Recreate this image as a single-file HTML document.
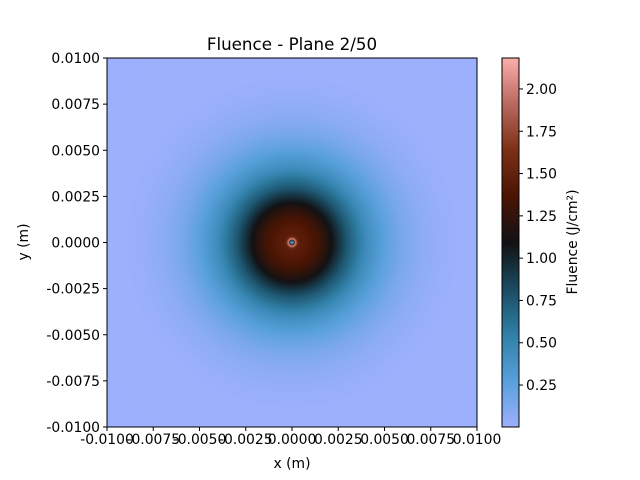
<!DOCTYPE html>
<html><head><meta charset="utf-8"><style>
body{margin:0;background:#fff;width:640px;height:480px;overflow:hidden;position:relative;font-family:"DejaVu Sans","Liberation Sans",sans-serif}
canvas{position:absolute}
svg{position:absolute;left:0;top:0}
text{font-family:"DejaVu Sans","Liberation Sans",sans-serif;fill:#000}
</style></head><body>
<canvas id="img" width="370" height="369" style="left:107px;top:58px"></canvas>
<canvas id="cb" width="17" height="369" style="left:502px;top:58px"></canvas>
<svg id="s" width="640" height="480"></svg>
<script>
// radial fluence profile (r in m, fluence J/cm2)
const radii=[0,0.00008,0.00018,0.00032,0.0005,0.001,0.0015,0.002,0.0025,0.003,0.0035,0.004,0.0045,0.005,0.006,0.007,0.008,0.009,0.015];
const fluence=[0.4,0.4,2.1,1.5,1.45,1.4,1.3,1.15,0.95,0.75,0.6,0.45,0.35,0.26,0.14,0.07,0.03,0.01,0.003];
const xTicks=[-0.01,-0.0075,-0.005,-0.0025,0,0.0025,0.005,0.0075,0.01];
const yTicks=[-0.01,-0.0075,-0.005,-0.0025,0,0.0025,0.005,0.0075,0.01];
const cbTicks=[0.25,0.5,0.75,1.0,1.25,1.5,1.75,2.0];
const vmin=0.002,vmax=2.183;
const cmapStops=[[0,[158,176,253]],[0.125,[88,160,220]],[0.25,[48,128,168]],[0.375,[26,76,98]],[0.5,[18,18,20]],[0.625,[75,20,3]],[0.75,[125,48,22]],[0.875,[185,105,95]],[1,[252,174,172]]];
function cmap(t){t=Math.max(0,Math.min(1,t));for(let i=1;i<cmapStops.length;i++){if(t<=cmapStops[i][0]){const a=cmapStops[i-1],b=cmapStops[i];const f=(t-a[0])/(b[0]-a[0]);return a[1].map((c,k)=>c+(b[1][k]-c)*f);}}return cmapStops[cmapStops.length-1][1];}
function prof(r){for(let i=1;i<radii.length;i++){if(r<=radii[i]){const f=(r-radii[i-1])/(radii[i]-radii[i-1]);return fluence[i-1]+(fluence[i]-fluence[i-1])*f;}}return fluence[fluence.length-1];}
const X0=107,X1=477,Y0=58,Y1=427;
const sx=v=>X0+(v+0.01)/0.02*(X1-X0);
const sy=v=>Y1-(v+0.01)/0.02*(Y1-Y0);
const sc=v=>Y1-(v-vmin)/(vmax-vmin)*(Y1-Y0);
(function(){const c=document.getElementById('img'),g=c.getContext('2d'),W=c.width,H=c.height,d=g.createImageData(W,H);
for(let j=0;j<H;j++)for(let i=0;i<W;i++){const x=-0.01+(i+0.5)/W*0.02,y=0.01-(j+0.5)/H*0.02;const v=prof(Math.hypot(x,y));const col=cmap((v-vmin)/(vmax-vmin));const p=(j*W+i)*4;d.data[p]=col[0];d.data[p+1]=col[1];d.data[p+2]=col[2];d.data[p+3]=255;}
g.putImageData(d,0,0);
const cc=document.getElementById('cb'),gc=cc.getContext('2d');
for(let j=0;j<cc.height;j++){const col=cmap(1-(j+0.5)/cc.height);gc.fillStyle='rgb('+col.map(Math.round).join(',')+')';gc.fillRect(0,j,cc.width,1);}})();
const s=document.getElementById('s'),NS='http://www.w3.org/2000/svg';
function el(t,a,txt){const e=document.createElementNS(NS,t);for(const k in a)e.setAttribute(k,a[k]);if(txt!=null)e.textContent=txt;s.appendChild(e);return e;}
let e;
e=el('rect',{x:X0,y:Y0,width:X1-X0,height:Y1-Y0,fill:'none',stroke:'#000','stroke-width':1});


e=el('rect',{x:502,y:Y0,width:17,height:Y1-Y0,fill:'none',stroke:'#000','stroke-width':1});


xTicks.forEach(v=>{const x=sx(v);
e=el('line',{x1:x,x2:x,y1:Y1,y2:Y1+4,stroke:'#000'});


e=el('text',{x:x,y:Y1+17,'text-anchor':'middle','font-size':'13.9'},v.toFixed(4));

});
yTicks.forEach(v=>{const y=sy(v);
e=el('line',{x1:X0-4,x2:X0,y1:y,y2:y,stroke:'#000'});


e=el('text',{x:X0-7,y:y+5,'text-anchor':'end','font-size':'13.9'},v.toFixed(4));

});
cbTicks.forEach(v=>{const y=sc(v);
e=el('line',{x1:519,x2:523,y1:y,y2:y,stroke:'#000'});


e=el('text',{x:526,y:y+5,'font-size':'13.9'},v.toFixed(2));

});
e=el('text',{x:292,y:50,'text-anchor':'middle','font-size':'16.7'},'Fluence - Plane 2/50');


e=el('text',{x:292,y:468,'text-anchor':'middle','font-size':'13.9'},'x (m)');


e=el('text',{x:0,y:0,'text-anchor':'middle','font-size':'13.9',transform:'translate(28,242) rotate(-90)'},'y (m)');


e=el('text',{x:0,y:0,'text-anchor':'middle','font-size':'13.9',transform:'translate(577,242) rotate(-90)'},'Fluence (J/cm²)');


</script>
</body></html>
